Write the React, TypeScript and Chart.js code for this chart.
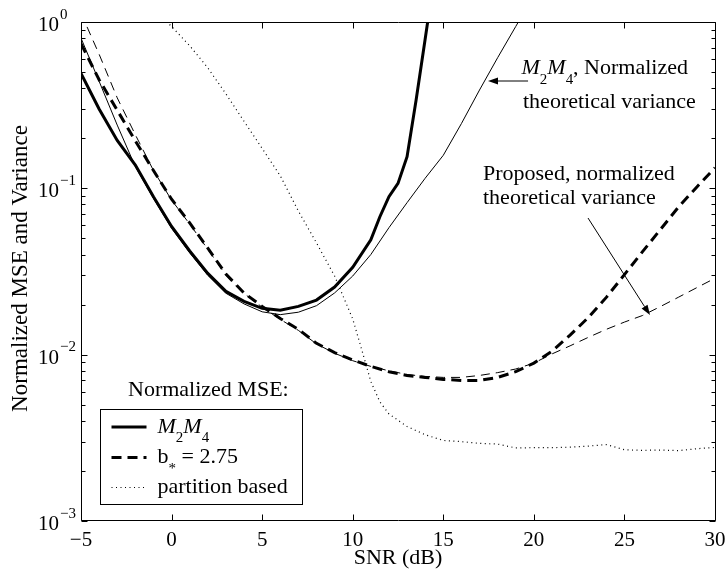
import React, { useEffect, useRef } from 'react';
import { Chart, registerables } from 'chart.js';

Chart.register(...registerables);

const FONT = '"Liberation Serif", "Times New Roman", Times, serif';

// ---- axis ticks ----
const xTicks = [-5, 0, 5, 10, 15, 20, 25, 30];
const xTickLabels = ['\u22125', '0', '5', '10', '15', '20', '25', '30'];
const yMajorTicks = [1, 0.1, 0.01, 0.001];
const yTickExponents = ['0', '\u22121', '\u22122', '\u22123'];

// ---- M2M4 normalized MSE (thick solid) ----
const snrM2M4 = [-5, -4, -3, -2, -1, 0, 1, 2, 3, 4, 5, 6, 7, 8, 9, 10, 11, 11.5, 12, 12.5, 13, 13.5, 14, 14.5];
const mseM2M4 = [0.49, 0.30, 0.194, 0.138, 0.089, 0.059, 0.042, 0.0308, 0.024, 0.0209, 0.019, 0.0185, 0.0195, 0.0213, 0.0255, 0.0335, 0.049, 0.0675, 0.089, 0.107, 0.155, 0.34, 0.79, 1.86];

// ---- M2M4 normalized theoretical variance (thin solid) ----
const snrVarM2M4 = [-5, -4, -3, -2, -1, 0, 1, 2, 3, 4, 5, 6, 7, 8, 9, 10, 11, 12, 13, 14, 15, 16, 17, 18, 19, 20];
const varM2M4 = [0.80, 0.44, 0.24, 0.135, 0.087, 0.0575, 0.041, 0.030, 0.0234, 0.0202, 0.0181, 0.0174, 0.018, 0.0197, 0.0235, 0.0297, 0.040, 0.058, 0.082, 0.115, 0.158, 0.245, 0.39, 0.61, 0.94, 1.45];

// ---- b* = 2.75 normalized MSE (thick dashed) ----
const snrB = [-5, -4, -3, -2, -1, 0, 1, 2, 3, 4, 5, 6, 7, 8, 9, 10, 11, 12, 13, 14, 15, 16, 17, 18, 19, 20, 21, 22, 23, 24, 25, 26, 27, 28, 29, 30];
const mseB = [0.74, 0.45, 0.295, 0.193, 0.128, 0.086, 0.062, 0.0437, 0.0305, 0.0235, 0.0195, 0.0165, 0.0142, 0.0117, 0.0103, 0.0093, 0.0085, 0.0079, 0.0075, 0.0073, 0.0071, 0.0070, 0.0070, 0.0073, 0.0079, 0.0089, 0.0105, 0.0131, 0.0167, 0.0221, 0.0303, 0.0416, 0.0568, 0.0776, 0.102, 0.133];

// ---- proposed normalized theoretical variance (thin dashed) ----
const snrBVar = [-5, -4, -3, -2, -1, 0, 1, 2, 3, 4, 5, 6, 7, 8, 9, 10, 11, 12, 13, 14, 15, 16, 17, 18, 19, 20, 21, 22, 23, 24, 25, 26, 27, 28, 29, 30];
const varB = [1.13, 0.64, 0.35, 0.21, 0.128, 0.085, 0.061, 0.043, 0.030, 0.0233, 0.0193, 0.0163, 0.0140, 0.0116, 0.0102, 0.0092, 0.0085, 0.0080, 0.0076, 0.0074, 0.0073, 0.0073, 0.0075, 0.0078, 0.0082, 0.0089, 0.0101, 0.0113, 0.0127, 0.0142, 0.0157, 0.0172, 0.0195, 0.0222, 0.0253, 0.0288];

// ---- partition based normalized MSE (dotted) ----
const snrPart = [-1, 0, 1, 2, 3, 4, 5, 6, 7, 8, 9, 10, 10.5, 11, 11.5, 12, 13, 14, 15, 16, 17, 18, 19, 20, 21, 22, 23, 24, 25, 26, 27, 28, 29, 30];
const msePart = [1.2, 0.94, 0.72, 0.53, 0.37, 0.253, 0.174, 0.119, 0.073, 0.047, 0.0297, 0.0164, 0.0107, 0.0069, 0.0052, 0.0044, 0.0037, 0.0033, 0.00305, 0.0030, 0.00293, 0.0029, 0.00275, 0.00276, 0.00276, 0.00278, 0.00282, 0.00288, 0.00268, 0.00266, 0.00267, 0.00265, 0.00272, 0.00277];

// ---- text ----
const xTitle = 'SNR (dB)';
const yTitle = 'Normalized MSE and Variance';
const legendTitle = 'Normalized MSE:';

type Part = { t: string; italic?: boolean; sub?: boolean };
const legendM2M4: Part[] = [{ t: 'M', italic: true }, { t: '2', sub: true }, { t: 'M', italic: true }, { t: '4', sub: true }];
const legendB: Part[] = [{ t: 'b' }, { t: '*', sub: true }, { t: ' = 2.75' }];
const legendPart: Part[] = [{ t: 'partition based' }];
const annot1Line1: Part[] = [{ t: 'M', italic: true }, { t: '2', sub: true }, { t: 'M', italic: true }, { t: '4', sub: true }, { t: ', Normalized' }];
const annot1Line2 = 'theoretical variance';
const annot2Line1 = 'Proposed, normalized';
const annot2Line2 = 'theoretical variance';

// arrows in data coordinates [fromX, fromY, toX, toY]
const arrow1 = [19.68, 0.4418, 17.47, 0.4418];
const arrow2 = [22.99, 0.0663, 26.41, 0.0173];

const toXY = (xs: number[], ys: number[]) => xs.map((x, i) => ({ x, y: ys[i] }));

function drawRich(ctx: CanvasRenderingContext2D, x: number, y: number, parts: Part[], size: number) {
  let cx = x;
  for (const p of parts) {
    const fs = p.sub ? size * 0.68 : size;
    ctx.font = `${p.italic ? 'italic ' : ''}${fs}px ${FONT}`;
    ctx.fillText(p.t, cx, y + (p.sub ? size * 0.45 : 0));
    cx += ctx.measureText(p.t).width;
  }
}

function drawArrow(ctx: CanvasRenderingContext2D, x1: number, y1: number, x2: number, y2: number) {
  const ang = Math.atan2(y2 - y1, x2 - x1);
  const hl = 10, hw = 3.5;
  const bx = x2 - hl * Math.cos(ang), by = y2 - hl * Math.sin(ang);
  ctx.beginPath();
  ctx.moveTo(x1, y1);
  ctx.lineTo(bx, by);
  ctx.stroke();
  ctx.beginPath();
  ctx.moveTo(x2, y2);
  ctx.lineTo(bx + hw * Math.sin(ang), by - hw * Math.cos(ang));
  ctx.lineTo(bx - hw * Math.sin(ang), by + hw * Math.cos(ang));
  ctx.closePath();
  ctx.fill();
}

const framePlugin = {
  id: 'matlabFrame',
  afterDatasetsDraw(chart: any) {
    const { ctx, chartArea: a, scales } = chart;
    const xs = scales.x, ys = scales.y;
    ctx.save();
    ctx.strokeStyle = '#000';
    ctx.fillStyle = '#000';
    ctx.lineWidth = 1;
    ctx.setLineDash([]);
    const L = Math.round(a.left) + 0.5;
    const R = Math.round(a.right) + 0.5;
    const T = Math.round(a.top) + 0.5;
    const B = Math.round(a.bottom) - 0.5;

    // box
    ctx.beginPath();
    ctx.rect(L, T, R - L, B - T);
    ctx.stroke();

    // x ticks (inside, bottom and top)
    ctx.beginPath();
    for (const v of xTicks) {
      const px = Math.round(xs.getPixelForValue(v)) + 0.5;
      ctx.moveTo(px, B); ctx.lineTo(px, B - 6);
      ctx.moveTo(px, T); ctx.lineTo(px, T + 6);
    }
    // y ticks major + minor (inside, left and right)
    for (const v of yMajorTicks) {
      const py = Math.round(ys.getPixelForValue(v)) + 0.5;
      ctx.moveTo(L, py); ctx.lineTo(L + 6, py);
      ctx.moveTo(R, py); ctx.lineTo(R - 6, py);
      if (v < 1) {
        for (let m = 2; m <= 9; m++) {
          const pm = Math.round(ys.getPixelForValue(v * m)) + 0.5;
          ctx.moveTo(L, pm); ctx.lineTo(L + 4, pm);
          ctx.moveTo(R, pm); ctx.lineTo(R - 4, pm);
        }
      }
    }
    ctx.stroke();

    // x tick labels
    ctx.font = `21px ${FONT}`;
    ctx.textAlign = 'center';
    ctx.textBaseline = 'alphabetic';
    xTicks.forEach((v, i) => {
      ctx.fillText(xTickLabels[i], xs.getPixelForValue(v), a.bottom + 25);
    });

    // y tick labels 10^n
    yMajorTicks.forEach((v, i) => {
      const py = ys.getPixelForValue(v);
      ctx.font = `21px ${FONT}`;
      ctx.textAlign = 'right';
      ctx.fillText('10', a.left - 22, py + 9);
      ctx.font = `15px ${FONT}`;
      ctx.textAlign = 'left';
      ctx.fillText(yTickExponents[i], a.left - 21, py - 3.5);
    });

    // axis titles
    ctx.font = `22px ${FONT}`;
    ctx.textAlign = 'center';
    ctx.fillText(xTitle, (a.left + a.right) / 2, a.bottom + 43);
    ctx.save();
    ctx.translate(27, (a.top + a.bottom) / 2 - 3);
    ctx.rotate(-Math.PI / 2);
    ctx.font = `23px ${FONT}`;
    ctx.fillText(yTitle, 0, 0);
    ctx.restore();

    // legend title
    ctx.textAlign = 'left';
    ctx.font = `22px ${FONT}`;
    ctx.fillText(legendTitle, a.left + 47, a.top + 374);

    // legend box
    const lx = a.left + 19.5, ly = a.top + 387.5, lw = 202, lh = 95;
    ctx.fillStyle = '#fff';
    ctx.fillRect(lx, ly, lw, lh);
    ctx.fillStyle = '#000';
    ctx.strokeRect(lx, ly, lw, lh);

    const sx1 = lx + 11, sx2 = lx + 46, tx = lx + 57;
    const rows = [
      { y: ly + 17.5, dash: [] as number[], w: 3, parts: legendM2M4 },
      { y: ly + 48, dash: [10, 6], w: 3, parts: legendB },
      { y: ly + 78, dash: [1, 3.5], w: 1.2, parts: legendPart },
    ];
    for (const r of rows) {
      ctx.save();
      ctx.lineWidth = r.w;
      ctx.setLineDash(r.dash);
      ctx.beginPath();
      ctx.moveTo(sx1, r.y);
      ctx.lineTo(sx2, r.y);
      ctx.stroke();
      ctx.restore();
      ctx.textAlign = 'left';
      drawRich(ctx, tx, r.y + 5.5, r.parts, 22);
    }

    // annotations
    const px = (v: number) => xs.getPixelForValue(v);
    const py = (v: number) => ys.getPixelForValue(v);
    ctx.lineWidth = 1;
    ctx.setLineDash([]);
    drawRich(ctx, 521.5, 74, annot1Line1, 22);
    ctx.font = `22px ${FONT}`;
    ctx.fillText(annot1Line2, 523, 108);
    ctx.fillText(annot2Line1, 483, 180);
    ctx.fillText(annot2Line2, 483, 204);
    drawArrow(ctx, px(arrow1[0]), py(arrow1[1]), px(arrow1[2]), py(arrow1[3]));
    drawArrow(ctx, px(arrow2[0]), py(arrow2[1]), px(arrow2[2]), py(arrow2[3]));

    ctx.restore();
  },
};

export default function App() {
  const ref = useRef<HTMLCanvasElement | null>(null);
  useEffect(() => {
    if (!ref.current) return;
    const chart = new Chart(ref.current, {
      type: 'line',
      data: {
        datasets: [
          { label: 'partition based', data: toXY(snrPart, msePart), borderColor: '#000', borderWidth: 1.2, borderDash: [1, 3.5], pointRadius: 0, tension: 0, clip: 0 } as any,
          { label: 'M2M4 theoretical variance', data: toXY(snrVarM2M4, varM2M4), borderColor: '#000', borderWidth: 1, pointRadius: 0, tension: 0, clip: 0 } as any,
          { label: 'Proposed theoretical variance', data: toXY(snrBVar, varB), borderColor: '#000', borderWidth: 1, borderDash: [9, 6], pointRadius: 0, tension: 0, clip: 0 } as any,
          { label: 'M2M4', data: toXY(snrM2M4, mseM2M4), borderColor: '#000', borderWidth: 3, pointRadius: 0, tension: 0, clip: 0 } as any,
          { label: 'b* = 2.75', data: toXY(snrB, mseB), borderColor: '#000', borderWidth: 3, borderDash: [10, 6], pointRadius: 0, tension: 0, clip: 0 } as any,
        ],
      },
      options: {
        responsive: false,
        animation: false,
        devicePixelRatio: 1,
        layout: { padding: { left: 81, right: 12, top: 22, bottom: 52 } },
        plugins: { legend: { display: false }, tooltip: { enabled: false }, title: { display: false } },
        scales: {
          x: { type: 'linear', min: -5, max: 30, display: false },
          y: { type: 'logarithmic', min: 0.001, max: 1, display: false },
        },
      },
      plugins: [framePlugin],
    });
    return () => chart.destroy();
  }, []);
  return (
    <div style={{ position: 'absolute', left: 0, top: 0, width: 727, height: 573, background: '#fff' }}>
      <canvas ref={ref} width={727} height={573} />
    </div>
  );
}
